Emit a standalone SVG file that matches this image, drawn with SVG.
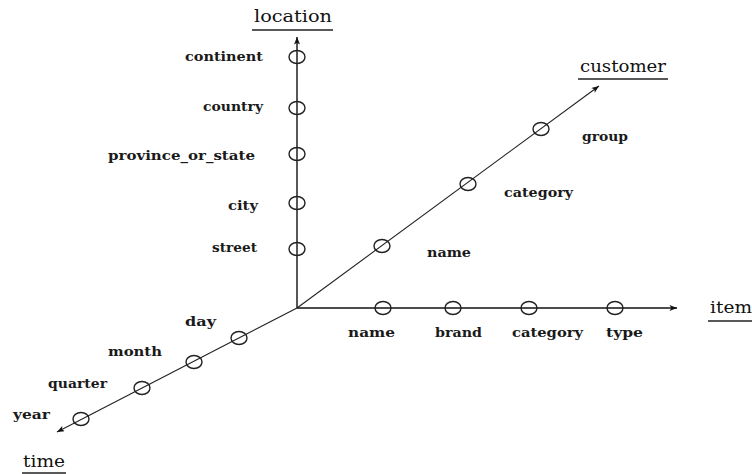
<svg xmlns="http://www.w3.org/2000/svg" width="752" height="474" viewBox="0 0 752 474">
  <style>
    .axis { stroke: #111; stroke-width: 1.4; fill: none; }
    .diag { stroke: #222; stroke-width: 1.1; fill: none; }
    .lvl { fill: none; stroke: #222; stroke-width: 1.4; }
    .lab { font-family: "DejaVu Serif", "Liberation Serif", serif; font-size: 12px; font-weight: bold; fill: #1a1a1a; }
    .ttl { font-family: "DejaVu Serif", "Liberation Serif", serif; font-size: 16px; fill: #111; }
    .ul { stroke: #222; stroke-width: 1.4; }
  </style>
  <defs>
    <marker id="arr" viewBox="0 0 10 8" refX="10" refY="4" markerWidth="9" markerHeight="6" markerUnits="userSpaceOnUse" orient="auto">
      <path d="M0,0 L10,4 L0,8 L2.5,4 Z" fill="#111"/>
    </marker>
  </defs>

  <!-- axes -->
  <g id="connectors">
    <line class="axis" x1="297" y1="308" x2="297" y2="37" marker-end="url(#arr)"/>
    <line class="axis" x1="297" y1="308" x2="677" y2="308" marker-end="url(#arr)"/>
    <line class="diag" x1="297" y1="308" x2="599" y2="86" marker-end="url(#arr)"/>
    <line class="diag" x1="297" y1="308" x2="57" y2="432" marker-end="url(#arr)"/>
  </g>

  <!-- location dimension -->
  <g id="location">
    <text class="ttl" x="254" y="22" textLength="78" lengthAdjust="spacingAndGlyphs">location</text>
    <line class="ul" x1="252" y1="30" x2="333" y2="30"/>
  </g>
  <g id="continent"><ellipse class="lvl" cx="297" cy="57" rx="8" ry="6.5"/><text class="lab" x="263" y="61" text-anchor="end" textLength="78" lengthAdjust="spacingAndGlyphs">continent</text></g>
  <g id="country"><ellipse class="lvl" cx="297" cy="108" rx="8" ry="6.5"/><text class="lab" x="263" y="111" text-anchor="end" textLength="60" lengthAdjust="spacingAndGlyphs">country</text></g>
  <g id="province_or_state"><ellipse class="lvl" cx="297" cy="154" rx="8" ry="6.5"/><text class="lab" x="255" y="160" text-anchor="end" textLength="147" lengthAdjust="spacingAndGlyphs">province_or_state</text></g>
  <g id="city"><ellipse class="lvl" cx="297" cy="203" rx="8" ry="6.5"/><text class="lab" x="258" y="210" text-anchor="end" textLength="30" lengthAdjust="spacingAndGlyphs">city</text></g>
  <g id="street"><ellipse class="lvl" cx="297" cy="249" rx="8" ry="6.5"/><text class="lab" x="257" y="252" text-anchor="end" textLength="45" lengthAdjust="spacingAndGlyphs">street</text></g>

  <!-- customer dimension -->
  <g id="customer">
    <text class="ttl" x="580" y="72" textLength="86" lengthAdjust="spacingAndGlyphs">customer</text>
    <line class="ul" x1="578" y1="79" x2="668" y2="79"/>
  </g>
  <g id="customer_name"><ellipse class="lvl" cx="382" cy="246" rx="8" ry="6.5"/><text class="lab" x="427" y="257" textLength="44" lengthAdjust="spacingAndGlyphs">name</text></g>
  <g id="customer_category"><ellipse class="lvl" cx="468" cy="184" rx="8" ry="6.5"/><text class="lab" x="504" y="197" textLength="69" lengthAdjust="spacingAndGlyphs">category</text></g>
  <g id="customer_group"><ellipse class="lvl" cx="541" cy="129" rx="8" ry="6.5"/><text class="lab" x="582" y="141" textLength="46" lengthAdjust="spacingAndGlyphs">group</text></g>

  <!-- item dimension -->
  <g id="item">
    <text class="ttl" x="710" y="313" textLength="42" lengthAdjust="spacingAndGlyphs">item</text>
    <line class="ul" x1="708" y1="321" x2="752" y2="321"/>
  </g>
  <g id="item_name"><ellipse class="lvl" cx="383" cy="308" rx="8" ry="6.5"/><text class="lab" x="348" y="337" textLength="47" lengthAdjust="spacingAndGlyphs">name</text></g>
  <g id="item_brand"><ellipse class="lvl" cx="453" cy="308" rx="8" ry="6.5"/><text class="lab" x="435" y="337" textLength="47" lengthAdjust="spacingAndGlyphs">brand</text></g>
  <g id="item_category"><ellipse class="lvl" cx="529" cy="308" rx="8" ry="6.5"/><text class="lab" x="512" y="337" textLength="71" lengthAdjust="spacingAndGlyphs">category</text></g>
  <g id="item_type"><ellipse class="lvl" cx="615" cy="308" rx="8" ry="6.5"/><text class="lab" x="606" y="337" textLength="37" lengthAdjust="spacingAndGlyphs">type</text></g>

  <!-- time dimension -->
  <g id="time">
    <text class="ttl" x="23" y="467" textLength="42" lengthAdjust="spacingAndGlyphs">time</text>
    <line class="ul" x1="22" y1="473" x2="66" y2="473"/>
  </g>
  <g id="day"><ellipse class="lvl" cx="239" cy="338" rx="8" ry="6.5"/><text class="lab" x="185" y="326" textLength="31" lengthAdjust="spacingAndGlyphs">day</text></g>
  <g id="month"><ellipse class="lvl" cx="194" cy="362" rx="8" ry="6.5"/><text class="lab" x="108" y="356" textLength="54" lengthAdjust="spacingAndGlyphs">month</text></g>
  <g id="quarter"><ellipse class="lvl" cx="142" cy="388" rx="8" ry="6.5"/><text class="lab" x="48" y="388" textLength="59" lengthAdjust="spacingAndGlyphs">quarter</text></g>
  <g id="year"><ellipse class="lvl" cx="81" cy="419" rx="8" ry="6.5"/><text class="lab" x="13" y="419" textLength="37" lengthAdjust="spacingAndGlyphs">year</text></g>
</svg>
